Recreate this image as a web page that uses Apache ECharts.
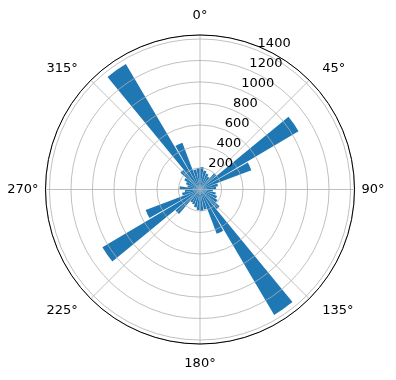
<!DOCTYPE html>
<html>
<head>
<meta charset="utf-8">
<script src="https://cdn.jsdelivr.net/npm/echarts@6/dist/echarts.min.js"></script>
<style>
  html, body { margin: 0; padding: 0; background: #fff; }
  #rose { width: 396px; height: 380px; }
</style>
</head>
<body>
<div id="rose"></div>
<script>
// bin centres (degrees, clockwise from north) and counts per 10 degree bin
var binCenters = [5, 15, 25, 35, 45, 55, 65, 75, 85, 95, 105, 115, 125, 135, 145, 155, 165, 175,
  185, 195, 205, 215, 225, 235, 245, 255, 265, 275, 285, 295, 305, 315, 325, 335, 345, 355];
var counts = [210, 180, 160, 140, 200, 1065, 510, 170, 150, 120, 150, 170, 190, 240, 1355, 440, 190, 200,
  190, 170, 150, 140, 300, 1055, 540, 170, 140, 190, 120, 140, 170, 240, 1355, 465, 190, 200];
var angleTicks = [0, 45, 90, 135, 180, 225, 270, 315];
var radiusTicks = [200, 400, 600, 800, 1000, 1200, 1400];
var rMax = 1437;

var center = [200, 189.5];
var radius = 154.5;
var gridColor = "#b0b0b0";
var font = "DejaVu Sans";

function lbl(pad) {
  return { fontFamily: font, fontSize: 13, color: "#000", padding: pad };
}

var chart = echarts.init(document.getElementById("rose"));
var option = {
  animation: false,
  polar: [
    { center: center, radius: radius },   // bars
    { center: center, radius: radius },   // grid + angle labels
    { center: center, radius: radius }    // radius labels along 22.5 deg
  ],
  angleAxis: [
    {
      polarIndex: 0,
      type: "category",
      data: binCenters,
      startAngle: 90,
      clockwise: true,
      boundaryGap: true,
      show: false
    },
    {
      polarIndex: 1,
      type: "value",
      min: 0,
      max: 360,
      interval: 45,
      startAngle: 90,
      clockwise: true,
      z: 5,
      axisLine: { show: true, lineStyle: { color: "#000", width: 1 } },
      axisTick: { show: false },
      axisLabel: {
        margin: 7,
        color: "#000",
        fontFamily: font,
        fontSize: 13,
        formatter: function (v) {
          if (angleTicks.indexOf(v) < 0) return "";
          var s = v + "°";
          if (v === 0) return "{up|" + s + "}";
          if (v === 180) return "{down|" + s + "}";
          if (v === 45 || v === 135) return "{right|" + s + "}";
          if (v === 225 || v === 315) return "{left|" + s + "}";
          return "{plain|" + s + "}";
        },
        rich: {
          up: lbl([0, 0, 6, 0]),
          down: lbl([6, 0, 0, 0]),
          right: lbl([0, 0, 0, 8]),
          left: lbl([0, 8, 0, 0]),
          plain: lbl(0)
        }
      },
      splitLine: { show: true, lineStyle: { color: gridColor, width: 0.8 } }
    },
    {
      polarIndex: 2,
      type: "value",
      min: 0,
      max: 360,
      startAngle: 67.5,
      clockwise: true,
      show: false
    }
  ],
  radiusAxis: [
    {
      polarIndex: 0,
      type: "value",
      min: 0,
      max: rMax,
      show: false
    },
    {
      polarIndex: 1,
      type: "value",
      min: 0,
      max: rMax,
      interval: 200,
      z: 4,
      axisLine: { show: false },
      axisTick: { show: false },
      axisLabel: { show: false },
      splitLine: { show: true, lineStyle: { color: gridColor, width: 0.8 } }
    },
    {
      polarIndex: 2,
      type: "value",
      min: 0,
      max: rMax,
      interval: 200,
      z: 6,
      axisLine: { show: false },
      axisTick: { show: false },
      splitLine: { show: false },
      axisLabel: {
        margin: 0,
        align: "left",
        verticalAlign: "bottom",
        color: "#000",
        fontFamily: font,
        fontSize: 13,
        formatter: function (v) {
          return radiusTicks.indexOf(v) >= 0 ? String(v) : "";
        }
      }
    }
  ],
  series: [
    {
      type: "bar",
      coordinateSystem: "polar",
      polarIndex: 0,
      data: counts,
      barWidth: "88%",
      itemStyle: { color: "#1f77b4" }
    }
  ]
};
chart.setOption(option);
</script>
</body>
</html>
